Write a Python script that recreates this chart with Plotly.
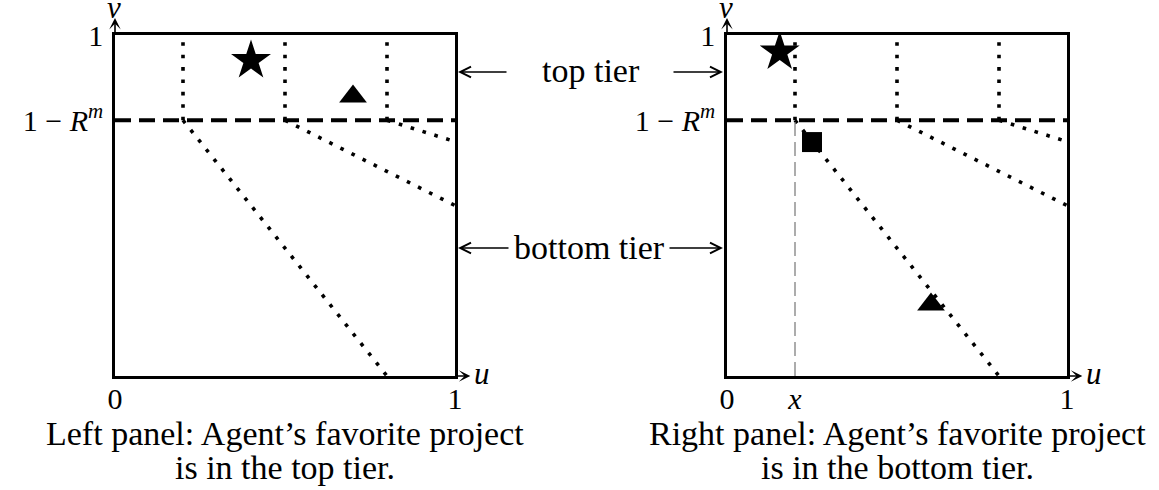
import plotly.graph_objects as go

W, H = 1159, 490

# ---------------- data ----------------
tier_cut = 0.75                     # v-value of 1 - R^m
split_u = [0.2, 0.5, 0.8]           # u where the dotted boundaries meet the cut
diag_end_u = [0.8, 1.0, 1.0]        # where each dotted ray leaves the box
diag_end_v = [0.0, 0.5, 0.6875]
left_star_u, left_star_v = [0.40], [0.925]
left_tri_u, left_tri_v = [0.70], [0.82]
right_star_u, right_star_v = [0.155], [0.95]
right_sq_u, right_sq_v = [0.25], [0.686]
right_tri_u, right_tri_v = [0.60], [0.21]
x_mark = 0.2
x_ticks_left = [0, 1]
x_text_left = ["0", "1"]
x_ticks_right = [0, x_mark, 1]
x_text_right = ["0", "<i>x</i>", "1"]
y_ticks = [tier_cut, 1]
y_text = ["1 \u2212 <i>R</i><sup><i>m</i></sup>", "1"]
captions_left = ["Left panel: Agent\u2019s favorite project", "is in the top tier."]
captions_right = ["Right panel: Agent\u2019s favorite project", "is in the bottom tier."]

FONT = "Liberation Serif"
FS = 31
FS_TICK = 30
FS_CAP = 34

# panel boxes in pixels (layout only)
LEFT_BOX = (115, 455)
RIGHT_BOX = (727, 1067)
TOP, BOTTOM = 35, 376


def PX(x):
    return x / W


def PY(y):
    return 1 - y / H


fig = go.Figure()

panels = [("x", "y"), ("x2", "y2")]
for xa, ya in panels:
    xs, ys = [], []
    for u0, ue, ve in zip(split_u, diag_end_u, diag_end_v):
        xs += [u0, u0, None, u0, ue, None]
        ys += [tier_cut, 1, None, tier_cut, ve, None]
    fig.add_trace(go.Scatter(x=xs, y=ys, mode="lines", xaxis=xa, yaxis=ya,
                             line=dict(color="black", width=3.6, dash="3.6px,8.8px"),
                             hoverinfo="skip", showlegend=False, cliponaxis=False))
    fig.add_trace(go.Scatter(x=[0, 1], y=[tier_cut, tier_cut], mode="lines",
                             xaxis=xa, yaxis=ya,
                             line=dict(color="black", width=4, dash="16px,8px"),
                             hoverinfo="skip", showlegend=False))

fig.add_trace(go.Scatter(x=[x_mark, x_mark], y=[0, tier_cut], mode="lines",
                         xaxis="x2", yaxis="y2",
                         line=dict(color="#808080", width=1.3, dash="14px,6px"),
                         hoverinfo="skip", showlegend=False))

mk = dict(color="black")
fig.add_trace(go.Scatter(x=left_star_u, y=left_star_v, mode="markers", xaxis="x", yaxis="y",
                         marker=dict(symbol="star", size=30, **mk), showlegend=False))
fig.add_trace(go.Scatter(x=left_tri_u, y=left_tri_v, mode="markers", xaxis="x", yaxis="y",
                         marker=dict(symbol="triangle-up", size=24, **mk), showlegend=False))
fig.add_trace(go.Scatter(x=right_star_u, y=right_star_v, mode="markers", xaxis="x2", yaxis="y2",
                         marker=dict(symbol="star", size=30, **mk), showlegend=False))
fig.add_trace(go.Scatter(x=right_sq_u, y=right_sq_v, mode="markers", xaxis="x2", yaxis="y2",
                         marker=dict(symbol="square", size=20, **mk), showlegend=False))
fig.add_trace(go.Scatter(x=right_tri_u, y=right_tri_v, mode="markers", xaxis="x2", yaxis="y2",
                         marker=dict(symbol="triangle-up", size=24, **mk), showlegend=False))

ydom = [PY(BOTTOM), PY(TOP)]
axis_common = dict(range=[0, 1], showgrid=False, zeroline=False, showline=True,
                   mirror=True, linecolor="black", linewidth=2.6, ticks="",
                   automargin=False,
                   tickfont=dict(family=FONT, size=FS_TICK, color="black"), fixedrange=True)

fig.update_layout(
    width=W, height=H, autosize=False,
    margin=dict(l=0, r=0, t=0, b=0, pad=0),
    paper_bgcolor="white", plot_bgcolor="white",
    xaxis=dict(domain=[PX(LEFT_BOX[0]), PX(LEFT_BOX[1])], anchor="y", tickvals=x_ticks_left,
               ticktext=x_text_left, ticklabelstandoff=-6, **axis_common),
    yaxis=dict(domain=ydom, anchor="x", tickvals=y_ticks, ticktext=y_text,
               ticklabelstandoff=3, **axis_common),
    xaxis2=dict(domain=[PX(RIGHT_BOX[0]), PX(RIGHT_BOX[1])], anchor="y2", tickvals=x_ticks_right,
                ticktext=x_text_right, ticklabelstandoff=-6, **axis_common),
    yaxis2=dict(domain=ydom, anchor="x2", tickvals=y_ticks, ticktext=y_text,
                ticklabelstandoff=3, **axis_common),
)

ann = []
tf = dict(family=FONT, size=FS, color="black")
cf = dict(family=FONT, size=FS_CAP, color="black")
for (xa, ya), (bl, br) in zip(panels, [LEFT_BOX, RIGHT_BOX]):
    # v axis arrow
    ann.append(dict(x=0, y=1.05, xref=xa, yref=ya, ax=0, ay=1.0, axref=xa, ayref=ya,
                    text="", showarrow=True, arrowhead=3, arrowsize=1.2, arrowwidth=1.6,
                    arrowcolor="black"))
    ann.append(dict(x=PX(bl - 1), y=PY(8), xref="paper", yref="paper", text="<i>v</i>",
                    showarrow=False, yanchor="middle", xanchor="center", font=tf))
    # u axis arrow
    ann.append(dict(x=1.045, y=0, xref=xa, yref=ya, ax=1.0, ay=0, axref=xa, ayref=ya,
                    text="", showarrow=True, arrowhead=3, arrowsize=1.2, arrowwidth=1.6,
                    arrowcolor="black"))
    ann.append(dict(x=PX(br + 17), y=PY(BOTTOM - 3), xref="paper", yref="paper",
                    text="<i>u</i>", showarrow=False, yanchor="middle", xanchor="left",
                    font=tf))

for yy, label, lx, lhead, ltail, rtail, rhead in [
        (72, "top tier", 591, 458, 508, 672, 723),
        (248, "bottom tier", 589, 458, 510, 668, 723)]:
    ann.append(dict(x=PX(lx), y=PY(yy - 1), xref="paper", yref="paper", text=label,
                    showarrow=False, xanchor="center", yanchor="middle", font=cf))
    ann.append(dict(x=PX(lhead), y=PY(yy), xref="paper", yref="paper", text="",
                    ax=ltail - lhead, ay=0, showarrow=True, arrowhead=5, arrowsize=1.5,
                    arrowwidth=1.4, arrowcolor="black"))
    ann.append(dict(x=PX(rhead), y=PY(yy), xref="paper", yref="paper", text="",
                    ax=rtail - rhead, ay=0, showarrow=True, arrowhead=5, arrowsize=1.5,
                    arrowwidth=1.4, arrowcolor="black"))

for cx, lines in [(285, captions_left), (897, captions_right)]:
    for cy, line in zip([433, 467], lines):
        ann.append(dict(x=PX(cx), y=PY(cy), xref="paper", yref="paper", text=line,
                        showarrow=False, xanchor="center", yanchor="middle", font=cf))

fig.update_layout(annotations=ann)
fig.write_html("out.html", config={"displayModeBar": False},
               post_script="document.body.style.margin='0px';document.body.style.overflow='hidden';")
